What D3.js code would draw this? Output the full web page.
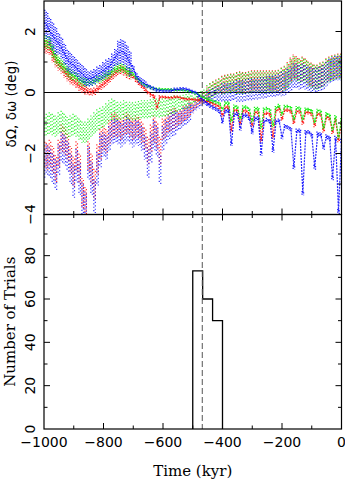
<!DOCTYPE html>
<html><head><meta charset="utf-8">
<script src="https://cdn.jsdelivr.net/npm/d3@7"></script>
<style>html,body{margin:0;padding:0;background:#fff;}svg{display:block;}</style>
</head><body>
<svg id="c" width="345" height="480"></svg>
<script>
// ---- data (time grid: -1000..0 kyr every 10 kyr) ----
const time = d3.range(-1000, 1, 10);

// Series A: upper-left branch that becomes the scalloped lower-right branch
const redA = [1.5,1.5,1.45,1.2,1.05,0.9,0.8,0.66,0.55,0.45,
 0.38,0.3,0.2,0.14,0.08,0.03,0.02,0.04,0.12,0.2,
 0.28,0.36,0.45,0.55,0.64,0.72,0.75,0.7,0.62,0.58,
 0.52,0.4,0.3,0.2,0.1,0.0,-0.08,-0.12,-0.5,-0.15,
 -0.15,-0.16,-0.17,-0.17,-0.15,-0.15,-0.18,-0.2,-0.22,-0.22,
 -0.23,-0.24,-0.25,-0.25,-0.28,-0.3,-0.33,-0.38,-0.42,-0.48,
 -0.75,-0.48,-0.48,-1.25,-0.58,-0.59,-1.02,-0.6,-0.61,-0.7,
 -1.08,-0.65,-0.65,-1.57,-0.7,-0.68,-0.72,-1.46,-0.6,-0.53,
 -0.86,-0.58,-0.58,-0.62,-0.97,-0.62,-0.63,-1.0,-0.65,-0.66,
 -0.7,-1.08,-0.7,-0.72,-1.25,-0.8,-0.85,-1.3,-0.9,-1.57,
 -1.0];
const greenA = [1.7,1.65,1.6,1.35,1.15,1.0,0.9,0.8,0.68,0.6,
 0.55,0.5,0.4,0.35,0.33,0.33,0.34,0.38,0.42,0.45,
 0.52,0.56,0.6,0.7,0.78,0.8,0.82,0.78,0.7,0.65,
 0.6,0.48,0.4,0.3,0.24,0.2,0.16,0.13,0.1,0.1,
 0.1,0.1,0.1,0.09,0.08,0.08,0.08,0.07,0.05,0.04,
 0.0,-0.02,-0.08,-0.15,-0.18,-0.22,-0.26,-0.29,-0.32,-0.36,
 -0.55,-0.35,-0.35,-0.92,-0.45,-0.48,-0.85,-0.48,-0.48,-0.55,
 -0.92,-0.53,-0.53,-1.14,-0.55,-0.53,-0.58,-1.08,-0.5,-0.43,
 -0.7,-0.46,-0.46,-0.5,-0.85,-0.5,-0.52,-0.85,-0.55,-0.56,
 -0.6,-0.95,-0.59,-0.62,-1.14,-0.7,-0.75,-1.2,-0.8,-1.46,
 -0.9];
const blueA = [2.3,2.2,2.0,1.85,1.7,1.6,1.45,1.25,1.05,0.95,
 0.9,0.8,0.68,0.6,0.5,0.45,0.47,0.52,0.6,0.65,
 0.72,0.8,0.85,1.0,1.15,1.3,1.35,1.3,1.15,0.95,
 0.78,0.55,0.42,0.35,0.28,0.22,0.17,0.13,0.08,0.06,
 0.05,0.05,0.05,0.07,0.1,0.1,0.12,0.12,0.1,0.07,
 0.03,0.0,-0.1,-0.22,-0.3,-0.38,-0.45,-0.5,-0.55,-0.62,
 -0.95,-0.6,-0.6,-1.68,-0.72,-0.7,-1.18,-0.75,-0.75,-0.85,
 -1.3,-0.85,-0.85,-2.0,-0.95,-0.9,-0.95,-1.9,-0.95,-0.92,
 -1.46,-1.1,-1.14,-1.2,-2.45,-1.25,-1.25,-3.3,-1.3,-1.3,
 -1.4,-2.45,-1.36,-1.38,-1.8,-1.45,-1.5,-2.8,-1.5,-3.9,
 -1.6];

// Series B: scattered lower-left branch that becomes the upper-right cloud
const redB = [-2.0,-2.1,-2.0,-2.2,-2.5,-2.0,-1.5,-1.6,-1.8,-2.2,
 -2.6,-2.1,-2.5,-3.3,-3.6,-2.1,-2.5,-3.0,-2.2,-1.7,
 -1.5,-1.6,-1.3,-1.1,-1.05,-1.1,-1.2,-1.05,-1.0,-1.1,
 -1.2,-1.1,-1.15,-1.3,-1.5,-1.9,-1.5,-1.2,-1.4,-1.9,
 -1.2,-1.1,-0.95,-0.9,-0.85,-0.85,-0.8,-0.7,-0.65,-0.55,
 -0.5,-0.4,-0.3,-0.25,-0.15,-0.05,0.05,0.12,0.18,0.22,
 0.25,0.28,0.3,0.32,0.32,0.32,0.35,0.32,0.32,0.35,
 0.38,0.38,0.38,0.38,0.38,0.38,0.38,0.38,0.38,0.4,
 0.42,0.48,0.6,0.75,0.85,0.8,0.72,0.78,0.72,0.62,
 0.58,0.52,0.52,0.58,0.62,0.72,0.78,0.82,0.85,0.88,
 0.88];
const greenB = [-1.1,-1.05,-1.0,-1.05,-1.1,-1.0,-0.95,-1.05,-1.15,-1.1,
 -1.05,-1.1,-1.2,-1.3,-1.3,-1.2,-1.1,-1.0,-0.9,-0.85,
 -0.8,-0.7,-0.6,-0.55,-0.6,-0.6,-0.6,-0.55,-0.6,-0.6,
 -0.62,-0.6,-0.58,-0.55,-0.55,-0.55,-0.52,-0.5,-0.5,-0.52,
 -0.5,-0.48,-0.45,-0.42,-0.4,-0.38,-0.35,-0.32,-0.3,-0.28,
 -0.25,-0.2,-0.15,-0.1,-0.05,0.0,0.05,0.1,0.15,0.2,
 0.22,0.25,0.28,0.3,0.3,0.3,0.32,0.3,0.3,0.32,
 0.35,0.35,0.35,0.35,0.35,0.35,0.35,0.35,0.35,0.38,
 0.4,0.45,0.55,0.7,0.8,0.75,0.7,0.75,0.7,0.6,
 0.55,0.5,0.5,0.55,0.6,0.7,0.75,0.8,0.82,0.85,
 0.85];
const blueB = [-2.3,-2.2,-2.3,-2.5,-2.7,-2.2,-1.8,-1.9,-2.1,-2.5,
 -2.9,-2.4,-2.8,-3.5,-3.8,-2.3,-2.8,-3.4,-2.5,-1.9,
 -1.7,-1.8,-1.5,-1.3,-1.25,-1.3,-1.4,-1.3,-1.2,-1.3,
 -1.4,-1.3,-1.35,-1.5,-1.8,-2.3,-1.8,-1.4,-1.6,-2.5,
 -1.5,-1.3,-1.15,-1.05,-1.0,-0.95,-0.9,-0.8,-0.75,-0.65,
 -0.55,-0.45,-0.38,-0.32,-0.25,-0.2,-0.15,-0.1,-0.05,-0.05,
 0.0,0.0,0.0,0.02,0.05,0.05,0.05,0.05,0.08,0.1,
 0.1,0.12,0.12,0.15,0.15,0.18,0.2,0.2,0.22,0.25,
 0.28,0.3,0.38,0.45,0.55,0.55,0.5,0.55,0.5,0.45,
 0.42,0.4,0.42,0.45,0.5,0.6,0.7,0.75,0.8,0.8,
 0.8];

// half-width of each scatter band, one value per 50 kyr block
const spreadAr = [0.22,0.18,0.15,0.12,0.14,0.15,0.07,0.06,0.05,0.05,0.05,0.06,0.06,0.06,0.06,0.06,0.06,0.06,0.06,0.06,0.06];
const spreadAg = [0.22,0.18,0.15,0.12,0.14,0.15,0.07,0.06,0.05,0.05,0.05,0.06,0.06,0.06,0.06,0.06,0.06,0.06,0.06,0.06,0.06];
const spreadAb = [0.45,0.35,0.3,0.25,0.28,0.4,0.12,0.07,0.06,0.06,0.06,0.07,0.07,0.07,0.07,0.07,0.07,0.07,0.08,0.08,0.08];
const spreadBr = [0.45,0.45,0.5,0.5,0.4,0.35,0.35,0.45,0.35,0.25,0.15,0.25,0.3,0.35,0.35,0.35,0.4,0.4,0.4,0.4,0.4];
const spreadBg = [0.35,0.35,0.35,0.35,0.35,0.3,0.3,0.3,0.3,0.25,0.15,0.25,0.3,0.35,0.35,0.35,0.4,0.4,0.4,0.4,0.4];
const spreadBb = [0.5,0.5,0.55,0.55,0.4,0.4,0.4,0.5,0.4,0.3,0.15,0.25,0.3,0.35,0.35,0.35,0.4,0.4,0.4,0.4,0.4];

// histogram
const binEdges = [-500, -466.67, -433.33, -400];
const binCounts = [73, 60, 50];
const markerTime = -468;

// ticks
const xMajor = [-1000,-800,-600,-400,-200,0];
const xMinor = [-900,-700,-500,-300,-100];
const xLabels = ["\u22121000","\u2212800","\u2212600","\u2212400","\u2212200","0"];
const yTopMajor = [-4,-2,0,2];
const yTopMinor = [-3,-1,1];
const yTopLabels = ["\u22124","\u22122","0","2"];
const yBotMajor = [0,20,40,60,80];
const yBotMinor = [10,30,50,70,90];
const yBotLabels = ["0","20","40","60","80"];

// ---- layout ----
const L = 44, R = 341.5, T1 = 1, B1 = 214.5, B2 = 429;
const svg = d3.select("#c");
const x = d3.scaleLinear().domain([-1000, 0]).range([L, R]);
const yT = d3.scaleLinear().domain([-4, 3]).range([B1, T1]);
const yB = d3.scaleLinear().domain([0, 99]).range([B2, B1]);

svg.append("defs").append("clipPath").attr("id","clipT")
  .append("rect").attr("x",L).attr("y",T1).attr("width",R-L).attr("height",B1-T1);

const gT = svg.append("g").attr("clip-path","url(#clipT)");

// zero line
gT.append("line").attr("x1",L).attr("x2",R).attr("y1",yT(0)).attr("y2",yT(0))
  .attr("stroke","#000").attr("stroke-width",1.2);

const COL = {r:"#ff0000", g:"#00f000", b:"#0000ff"};

function cloud(vals, spread, col, w, dash, op) {
  const g = gT.append("g").attr("stroke", col).attr("stroke-width", w)
    .attr("stroke-dasharray", dash).attr("opacity", op);
  [-0.75, 0.75].forEach((dx, k) => {
    g.selectAll(null).data(vals).enter().append("line")
      .attr("x1", (d,i) => x(time[i]) + dx).attr("x2", (d,i) => x(time[i]) + dx)
      .attr("y1", (d,i) => yT(d + spread[Math.min(20, Math.floor(i/5))]))
      .attr("y2", (d,i) => yT(d - spread[Math.min(20, Math.floor(i/5))]))
      .attr("stroke-dashoffset", k * 1.4);
  });
}
function trace(vals, col, w, op) {
  gT.append("path").datum(vals)
    .attr("d", d3.line().x((d,i) => x(time[i])).y(d => yT(d)))
    .attr("fill","none").attr("stroke",col).attr("stroke-width",w).attr("opacity",op)
    .attr("stroke-dasharray","2 1");
}

// scattered branch first
cloud(redB, spreadBr, COL.r, 1.2, "1.2 2.2", 0.8);
cloud(greenB, spreadBg, COL.g, 1.2, "1.2 2.2", 0.8);
cloud(blueB, spreadBb, COL.b, 1.2, "1.2 2.2", 0.8);
// tighter branch
cloud(redA, spreadAr, COL.r, 1.3, "1.2 1.4", 0.9);
trace(redA, COL.r, 1.2, 0.85);
cloud(greenA, spreadAg, COL.g, 1.3, "1.2 1.4", 0.9);
trace(greenA, COL.g, 1.2, 0.85);
cloud(blueA, spreadAb, COL.b, 1.3, "1.2 1.4", 0.9);
trace(blueA, COL.b, 1.2, 0.85);

// histogram
const hpts = [[binEdges[0], 0]];
binCounts.forEach((c, i) => { hpts.push([binEdges[i], c]); hpts.push([binEdges[i+1], c]); });
hpts.push([binEdges[binEdges.length-1], 0]);
svg.append("path").datum(hpts)
  .attr("d", d3.line().x(d => x(d[0])).y(d => yB(d[1])))
  .attr("fill","none").attr("stroke","#000").attr("stroke-width",1.3);

// dashed marker line
svg.append("line").attr("x1",x(markerTime)).attr("x2",x(markerTime))
  .attr("y1",T1).attr("y2",B2).attr("stroke","#555").attr("stroke-width",1)
  .attr("stroke-dasharray","6 3");

// frames & ticks
function frame(top, bottom, y, yMaj, yMin) {
  svg.append("rect").attr("x",L).attr("y",top).attr("width",R-L).attr("height",bottom-top)
    .attr("fill","none").attr("stroke","#000").attr("stroke-width",1.2);
  const g = svg.append("g").attr("stroke","#000").attr("stroke-width",1);
  const tk = (list, len) => {
    list.forEach(v => {
      const xv = x(v);
      if (xv <= L + 0.5 || xv >= R - 0.5) return;
      g.append("line").attr("x1",xv).attr("x2",xv).attr("y1",bottom).attr("y2",bottom-len);
      g.append("line").attr("x1",xv).attr("x2",xv).attr("y1",top).attr("y2",top+len);
    });
  };
  tk(xMajor, 6); tk(xMinor, 3.5);
  const tky = (list, len) => {
    list.forEach(v => {
      const yv = y(v);
      if (yv <= top + 0.5 || yv >= bottom - 0.5) return;
      g.append("line").attr("x1",L).attr("x2",L+len).attr("y1",yv).attr("y2",yv);
      g.append("line").attr("x1",R).attr("x2",R-len).attr("y1",yv).attr("y2",yv);
    });
  };
  tky(yMaj, 6); tky(yMin, 3.5);
}
frame(T1, B1, yT, yTopMajor, yTopMinor);
frame(B1, B2, yB, yBotMajor, yBotMinor);

// tick labels
const tf = "'DejaVu Sans', sans-serif";
yTopMajor.forEach((v, i) => {
  svg.append("text").attr("transform",`translate(30,${yT(v)}) rotate(-90)`)
    .attr("text-anchor","middle").attr("dominant-baseline","central")
    .attr("font-family",tf).attr("font-size",14).text(yTopLabels[i]);
});
yBotMajor.forEach((v, i) => {
  svg.append("text").attr("transform",`translate(30,${yB(v)}) rotate(-90)`)
    .attr("text-anchor","middle").attr("dominant-baseline","central")
    .attr("font-family",tf).attr("font-size",14).text(yBotLabels[i]);
});
xMajor.forEach((v, i) => {
  svg.append("text").attr("x", x(v)).attr("y", 447).attr("text-anchor","middle")
    .attr("font-family",tf).attr("font-size",14).text(xLabels[i]);
});

// axis titles
svg.append("text").attr("x",(L+R)/2).attr("y",476).attr("text-anchor","middle")
  .attr("font-family","'DejaVu Serif', serif").attr("font-size",15).text("Time (kyr)");
svg.append("text").attr("transform",`translate(15,${(B1+B2)/2}) rotate(-90)`)
  .attr("text-anchor","middle").attr("font-family","'DejaVu Serif', serif")
  .attr("font-size",15).text("Number of Trials");
svg.append("text").attr("transform",`translate(16,104) rotate(-90)`)
  .attr("text-anchor","middle").attr("font-family",tf)
  .attr("font-size",13.5).text("\u03B4\u03A9, \u03B4\u03C9 (deg)");
</script>
</body></html>
